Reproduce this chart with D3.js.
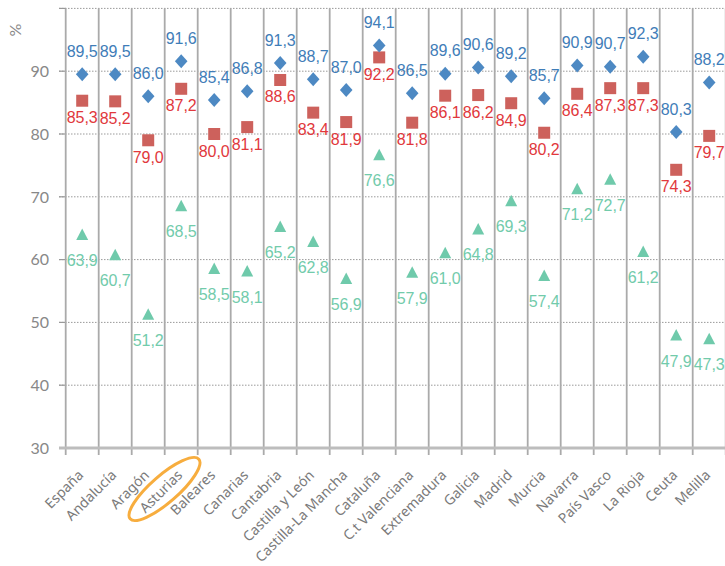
<!DOCTYPE html>
<html>
<head>
<meta charset="utf-8">
<script src="https://cdn.jsdelivr.net/npm/d3@7"></script>
<style>
html,body{margin:0;padding:0;background:#fff;}
svg{display:block;}
</style>
</head>
<body>
<script>
const categories = ["España","Andalucía","Aragón","Asturias","Baleares","Canarias","Cantabria","Castilla y León","Castilla-La Mancha","Cataluña","C.t Valenciana","Extremadura","Galicia","Madrid","Murcia","Navarra","País Vasco","La Rioja","Ceuta","Melilla"];
const seriesBlue  = [89.5,89.5,86.0,91.6,85.4,86.8,91.3,88.7,87.0,94.1,86.5,89.6,90.6,89.2,85.7,90.9,90.7,92.3,80.3,88.2];
const seriesRed   = [85.3,85.2,79.0,87.2,80.0,81.1,88.6,83.4,81.9,92.2,81.8,86.1,86.2,84.9,80.2,86.4,87.3,87.3,74.3,79.7];
const seriesGreen = [63.9,60.7,51.2,68.5,58.5,58.1,65.2,62.8,56.9,76.6,57.9,61.0,64.8,69.3,57.4,71.2,72.7,61.2,47.9,47.3];
const yTicks = [30,40,50,60,70,80,90,100];
const yTickLabels = ["30","40","50","60","70","80","90",""];
const highlighted = "Asturias";

const W = 725, H = 566;
const svg = d3.select("body").append("svg").attr("width", W).attr("height", H);

const x = d3.scaleBand().domain(categories).range([65.7, 725.7]).paddingInner(0).paddingOuter(0);
const y = d3.scaleLinear().domain([30, 100]).range([448, 8.4]);
const fmt = v => d3.format(".1f")(v).replace(".", ",");

// horizontal dotted gridlines + left ticks
const gH = svg.append("g");
gH.selectAll("line.h").data(yTicks.filter(t => t > 30)).join("line")
  .attr("x1", 59).attr("x2", W)
  .attr("y1", d => y(d)).attr("y2", d => y(d))
  .attr("stroke", "#9a9a9a").attr("stroke-width", 1).attr("stroke-dasharray", "1.5,1.5");
gH.selectAll("line.t").data(yTicks).join("line")
  .attr("x1", 59).attr("x2", 66)
  .attr("y1", d => y(d)).attr("y2", d => y(d))
  .attr("stroke", "#999").attr("stroke-width", 1.2);

// vertical gridlines at band boundaries
const bounds = categories.map(c => x(c)).concat([x.range()[1]]);
svg.append("g").selectAll("line").data(bounds).join("line")
  .attr("x1", d => d).attr("x2", d => d)
  .attr("y1", y(100)).attr("y2", 455)
  .attr("stroke", "#aaaaaa").attr("stroke-width", 1.8);

// bottom axis line
svg.append("line").attr("x1", 59).attr("x2", W).attr("y1", y(30)).attr("y2", y(30))
  .attr("stroke", "#bdbdbd").attr("stroke-width", 3);

// y tick labels
svg.append("g").selectAll("text").data(yTicks).join("text")
  .attr("x", 49).attr("y", d => y(d)).attr("dy", "0.36em")
  .attr("text-anchor", "end")
  .attr("font-family", "Lato, sans-serif").attr("font-size", 16)
  .attr("fill", "#888")
  .text((d, i) => yTickLabels[i]);

// % unit
svg.append("text").attr("transform", "translate(15,30) rotate(-90)")
  .attr("text-anchor", "middle").attr("dy", "0.35em")
  .attr("font-family", "Lato, sans-serif").attr("font-size", 16)
  .attr("fill", "#888").text("%");

// category labels
const cx = c => x(c) + x.bandwidth() / 2;
svg.append("g").selectAll("text").data(categories).join("text")
  .attr("transform", d => `translate(${cx(d) + 2},${476}) rotate(-45)`)
  .attr("text-anchor", "end")
  .attr("font-family", "'Noto Sans', sans-serif").attr("font-size", 14)
  .attr("fill", "#7a7a7a")
  .text(d => d);

// highlight ellipse
const hx = cx(highlighted);
svg.append("ellipse")
  .attr("transform", `translate(${hx - 16.7},${489}) rotate(-41)`)
  .attr("rx", 45.5).attr("ry", 13.5)
  .attr("fill", "none").attr("stroke", "#f7ad3e").attr("stroke-width", 3);

// green triangles
const triPath = "M0,-6.5L6,5L-6,5Z";
svg.append("g").selectAll("path").data(seriesGreen).join("path")
  .attr("d", triPath)
  .attr("transform", (d, i) => `translate(${cx(categories[i])},${y(d)})`)
  .attr("fill", "#6fcaab");
svg.append("g").selectAll("text").data(seriesGreen).join("text")
  .attr("x", (d, i) => cx(categories[i])).attr("y", d => y(d) + 31)
  .attr("text-anchor", "middle")
  .attr("font-family", "'Liberation Sans', Arial, sans-serif").attr("font-size", 16)
  .attr("fill", "#72cbab").text(fmt);

// red squares
svg.append("g").selectAll("rect").data(seriesRed).join("rect")
  .attr("x", (d, i) => cx(categories[i]) - 6).attr("y", d => y(d) - 6)
  .attr("width", 12).attr("height", 12)
  .attr("fill", "#cd615c");
svg.append("g").selectAll("text").data(seriesRed).join("text")
  .attr("x", (d, i) => cx(categories[i])).attr("y", d => y(d) + 22.5)
  .attr("text-anchor", "middle")
  .attr("font-family", "'Liberation Sans', Arial, sans-serif").attr("font-size", 16)
  .attr("fill", "#e1383c").text(fmt);

// blue diamonds
const diaPath = "M0,-7L6.3,0L0,7L-6.3,0Z";
svg.append("g").selectAll("path").data(seriesBlue).join("path")
  .attr("d", diaPath)
  .attr("transform", (d, i) => `translate(${cx(categories[i])},${y(d)})`)
  .attr("fill", "#4d89c3");
svg.append("g").selectAll("text").data(seriesBlue).join("text")
  .attr("x", (d, i) => cx(categories[i])).attr("y", d => y(d) - 17.5)
  .attr("text-anchor", "middle")
  .attr("font-family", "'Liberation Sans', Arial, sans-serif").attr("font-size", 16)
  .attr("fill", "#3f7db8").text(fmt);
</script>
</body>
</html>
